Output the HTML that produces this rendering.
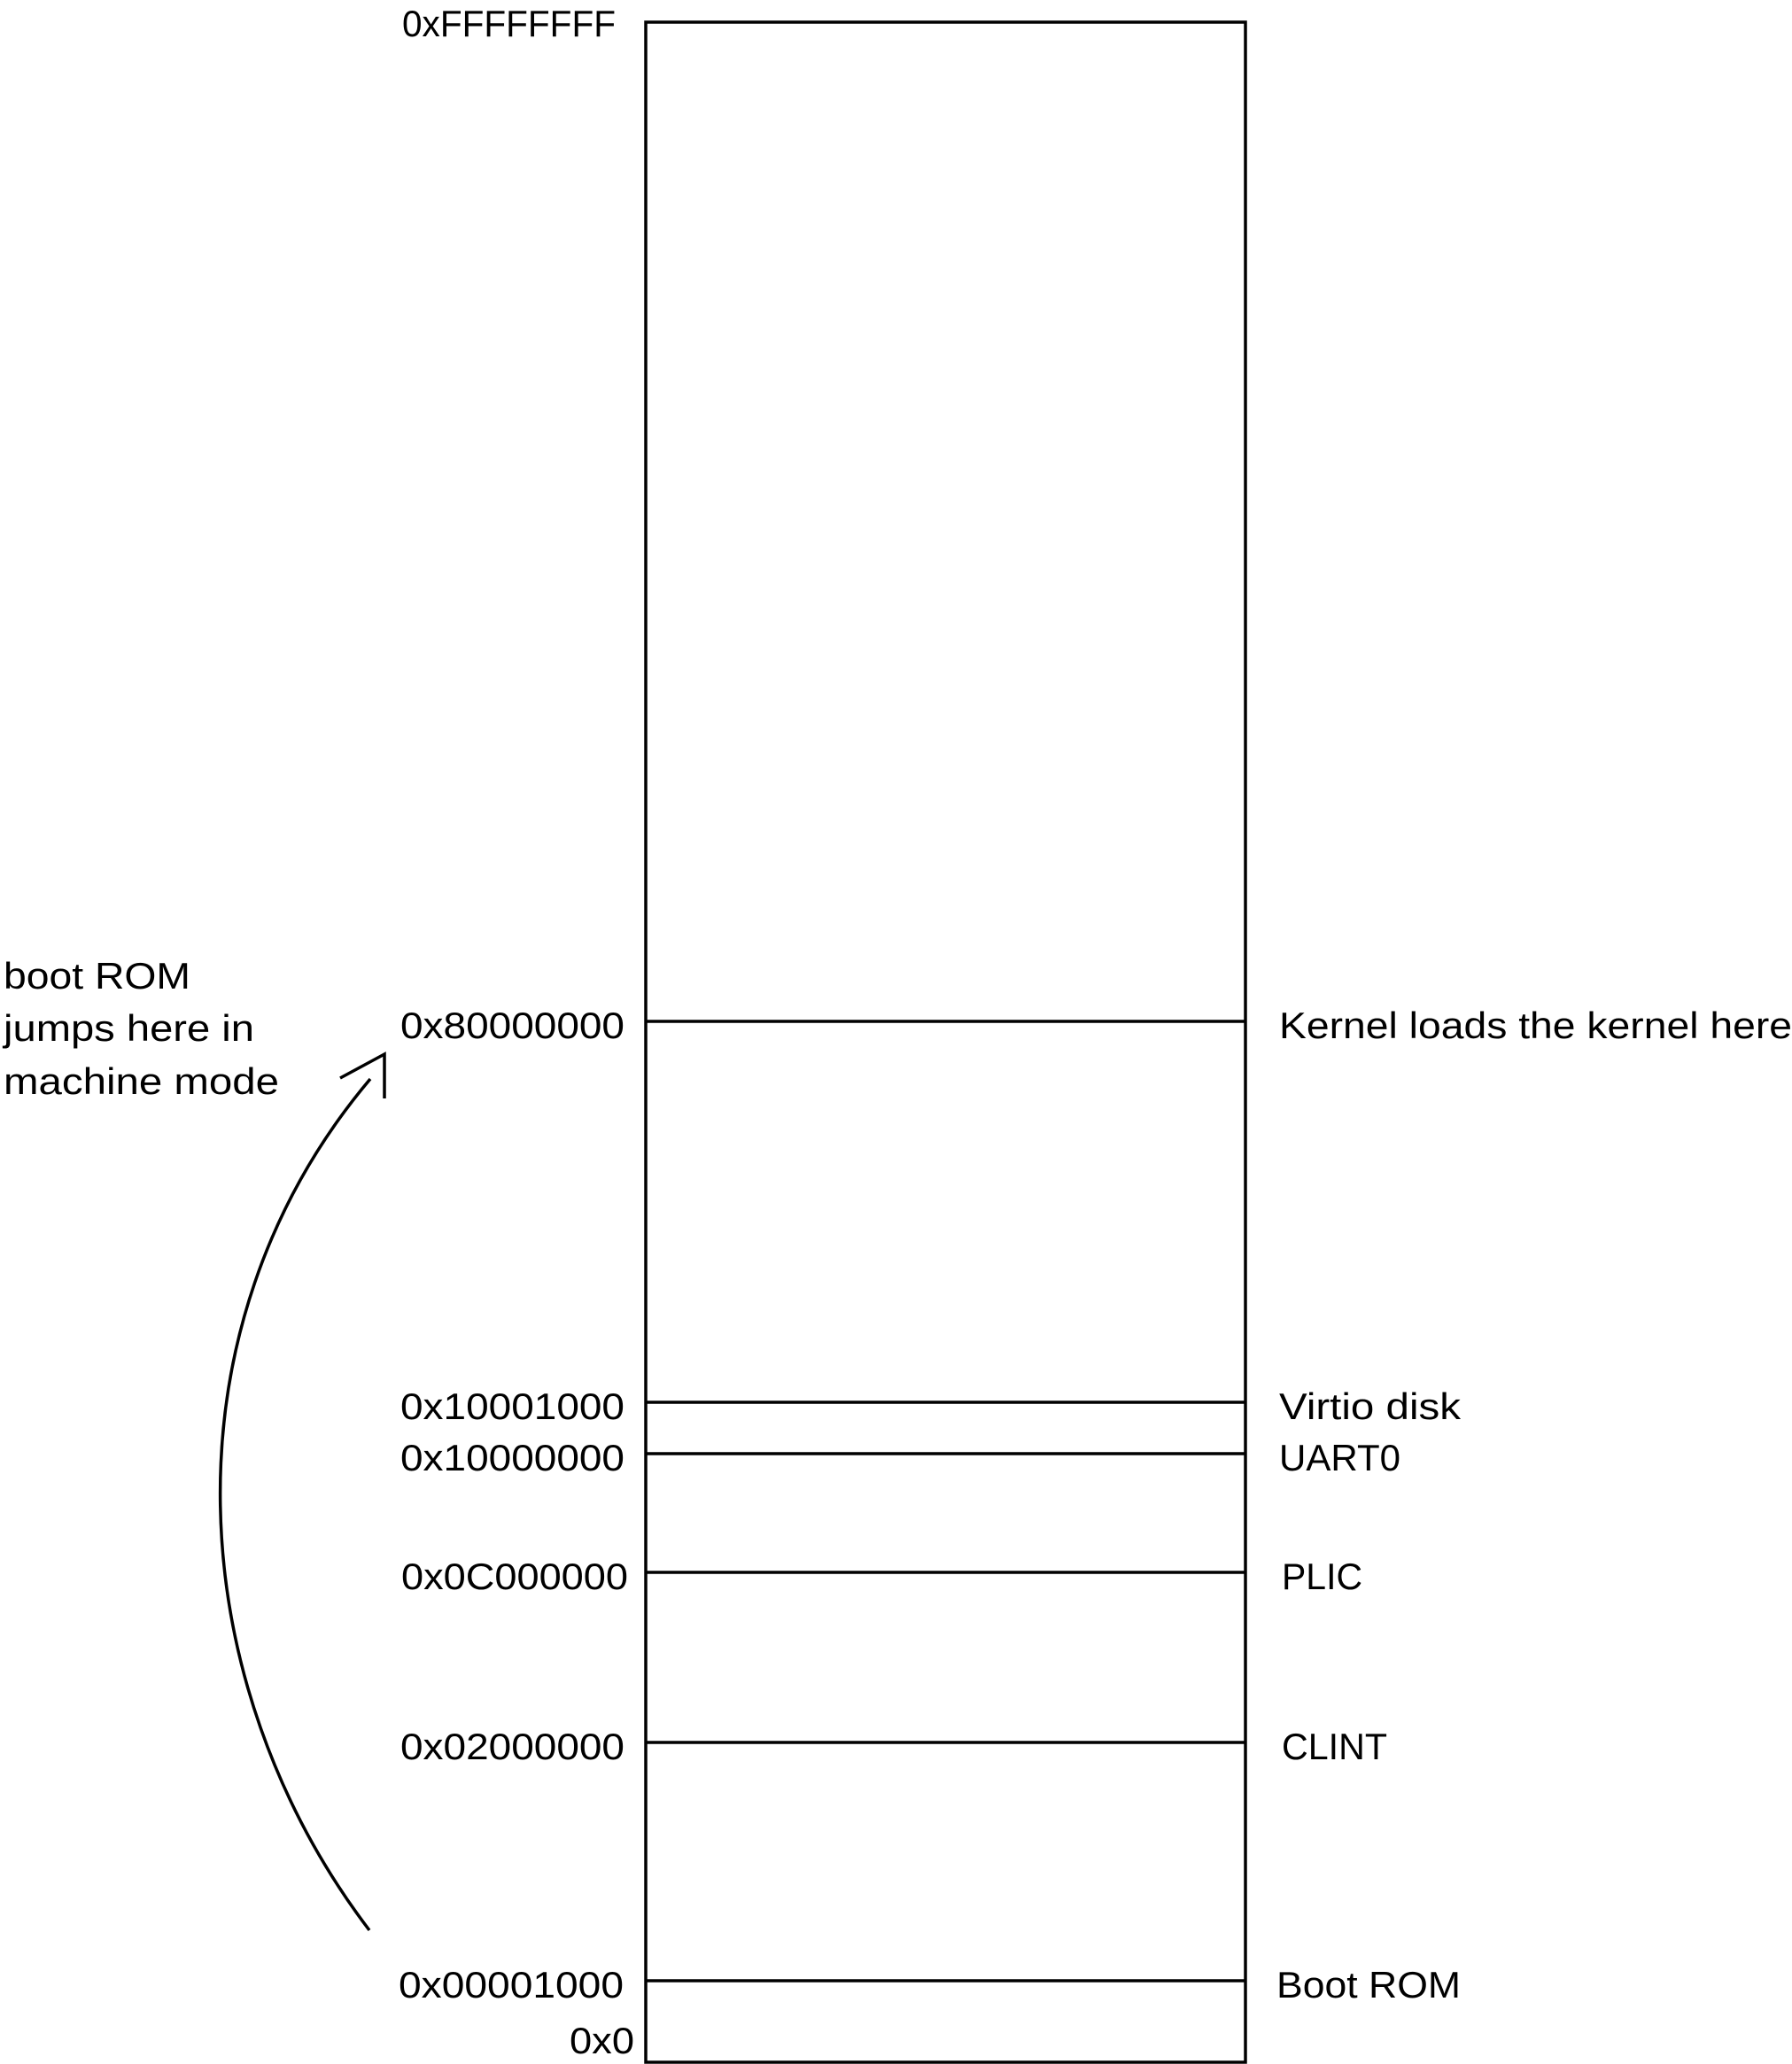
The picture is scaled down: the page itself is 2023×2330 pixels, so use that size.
<!DOCTYPE html>
<html><head><meta charset="utf-8"><style>
html,body{margin:0;padding:0;background:#fff;}
svg{display:block;}
text{font-family:"Liberation Sans",sans-serif;font-size:42px;fill:#000;}
</style></head><body>
<svg width="2023" height="2330" viewBox="0 0 2023 2330" xmlns="http://www.w3.org/2000/svg">
<rect x="729" y="25" width="677" height="2303" fill="none" stroke="#000" stroke-width="3.5"/>
<g stroke="#000" stroke-width="3.5">
<line x1="729" y1="1153" x2="1406" y2="1153"/>
<line x1="729" y1="1583" x2="1406" y2="1583"/>
<line x1="729" y1="1641" x2="1406" y2="1641"/>
<line x1="729" y1="1775" x2="1406" y2="1775"/>
<line x1="729" y1="1967" x2="1406" y2="1967"/>
<line x1="729" y1="2236" x2="1406" y2="2236"/>
</g>
<g lengthAdjust="spacingAndGlyphs">
<text x="454" y="41" textLength="241" lengthAdjust="spacingAndGlyphs">0xFFFFFFFF</text>
<text x="452" y="1172" textLength="253" lengthAdjust="spacingAndGlyphs">0x80000000</text>
<text x="452" y="1602" textLength="253" lengthAdjust="spacingAndGlyphs">0x10001000</text>
<text x="452" y="1660" textLength="253" lengthAdjust="spacingAndGlyphs">0x10000000</text>
<text x="453" y="1794" textLength="256" lengthAdjust="spacingAndGlyphs">0x0C000000</text>
<text x="452" y="1986" textLength="253" lengthAdjust="spacingAndGlyphs">0x02000000</text>
<text x="450" y="2255" textLength="254" lengthAdjust="spacingAndGlyphs">0x00001000</text>
<text x="643" y="2318" textLength="73" lengthAdjust="spacingAndGlyphs">0x0</text>
<text x="1444" y="1172" textLength="579" lengthAdjust="spacingAndGlyphs">Kernel loads the kernel here</text>
<text x="1444" y="1602" textLength="205" lengthAdjust="spacingAndGlyphs">Virtio disk</text>
<text x="1444" y="1660" textLength="137" lengthAdjust="spacingAndGlyphs">UART0</text>
<text x="1447" y="1794" textLength="91" lengthAdjust="spacingAndGlyphs">PLIC</text>
<text x="1447" y="1986" textLength="119" lengthAdjust="spacingAndGlyphs">CLINT</text>
<text x="1441" y="2255" textLength="208" lengthAdjust="spacingAndGlyphs">Boot ROM</text>
<text x="4" y="1116" textLength="211" lengthAdjust="spacingAndGlyphs">boot ROM</text>
<text x="4" y="1175" textLength="283" lengthAdjust="spacingAndGlyphs">jumps here in</text>
<text x="4" y="1235" textLength="311" lengthAdjust="spacingAndGlyphs">machine mode</text>
</g>
<g fill="none" stroke="#000" stroke-width="3.5">
<path d="M417 2179 C 205 1900, 180 1500, 418 1218"/>
<polyline points="384,1217 434,1190 434,1240"/>
</g>
</svg>
</body></html>
